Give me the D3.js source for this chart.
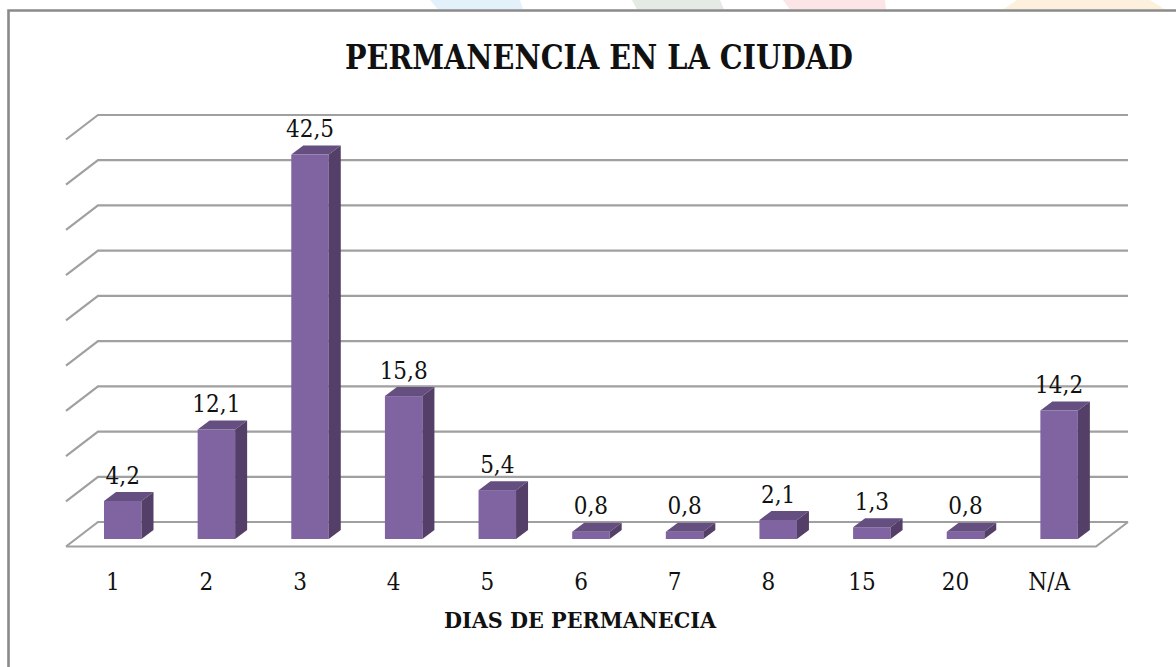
<!DOCTYPE html>
<html><head><meta charset="utf-8">
<script src="https://cdn.jsdelivr.net/npm/d3@7"></script>
<style>html,body{margin:0;padding:0;background:#fff}svg{display:block}
text{font-family:"DejaVu Serif Condensed","DejaVu Serif",serif;fill:#111}</style></head>
<body><svg id="c" width="1176" height="667"></svg>
<script>
const categories = ["1","2","3","4","5","6","7","8","15","20","N/A"];
const values = [4.2,12.1,42.5,15.8,5.4,0.8,0.8,2.1,1.3,0.8,14.2];
const labels = ["4,2","12,1","42,5","15,8","5,4","0,8","0,8","2,1","1,3","0,8","14,2"];
const gridTicks = [0,5,10,15,20,25,30,35,40,45];
const titleText = "PERMANENCIA EN LA CIUDAD";
const axisTitle = "DIAS DE PERMANECIA";
const stripes = [["430,0 520,0 523,9.5 438,9.5","#e2f1fa"],["632,0 720,0 724,9.5 637,9.5","#e4eae4"],["783,0 885,0 886,9.5 790,9.5","#fbe5e7"],["1017,0 1150,0 1165,9.5 1003,9.5","#fdf0dc"]];

const svg = d3.select("#c");
const floorDX = 32, floorDY = 24.5;
const barDX = 12, barDY = 9;
const x = d3.scaleBand().domain(categories).range([66,1096]).padding(0);
const y = d3.scaleLinear().domain([0,45]).range([546.5,139.5]);
const barBase = 539, yBar = v => barBase - (y(0)-y(v));

// decorative strips above the frame
svg.selectAll(".strip").data(stripes).join("polygon").attr("points",d=>d[0]).attr("fill",d=>d[1]);

// frame
svg.append("path").attr("d","M8.5,667V10.5H1176").attr("fill","none").attr("stroke","#8a8a8a").attr("stroke-width",2.6);

// gridlines
const gridColor="#a0a0a0";
const g = svg.append("g").attr("fill","none").attr("stroke",gridColor).attr("stroke-width",2.2);
g.selectAll(".gl").data(gridTicks).join("path")
  .attr("d",t=>{const yf=y(t), yb=yf-floorDY;
    return `M${x.range()[0]},${yf}L${x.range()[0]+floorDX},${yb}H${x.range()[1]+floorDX}`;});
g.append("path").attr("d",`M${x.range()[0]},${y(0)}H${x.range()[1]}L${x.range()[1]+floorDX},${y(0)-floorDY}`);

// bars
const barOffset = 38, barW = 37.5;
const bars = svg.selectAll(".bar").data(categories.map((c,i)=>({c,v:values[i],l:labels[i]}))).join("g").attr("class","bar");
bars.append("rect").attr("x",d=>x(d.c)+barOffset).attr("y",d=>yBar(d.v)).attr("width",barW)
  .attr("height",d=>barBase-yBar(d.v)).attr("fill","#8064a2");
bars.append("path").attr("fill","#654f80").attr("d",d=>{const l=x(d.c)+barOffset,t=yBar(d.v);
  return `M${l},${t}l${barDX},${-barDY}h${barW}l${-barDX},${barDY}z`;});
bars.append("path").attr("fill","#543f68").attr("d",d=>{const r=x(d.c)+barOffset+barW,t=yBar(d.v);
  return `M${r},${t}l${barDX},${-barDY}V${barBase-barDY}l${-barDX},${barDY}z`;});
bars.append("text").attr("x",d=>x(d.c)+barOffset+barW/2).attr("y",d=>yBar(d.v)-barDY-8.5)
  .attr("text-anchor","middle").attr("font-size",24).text(d=>d.l);

// category labels
const ax = d3.axisBottom(x).tickSize(0).tickPadding(0);
const axg = svg.append("g").attr("transform","translate(0,573)").call(ax);
axg.select(".domain").remove();
axg.selectAll("text").attr("y",17).attr("dy",null).attr("font-size",24).style("font-family",'"DejaVu Serif Condensed","DejaVu Serif",serif').attr("fill","#111");

svg.append("text").attr("x",599).attr("y",69).attr("text-anchor","middle").attr("font-size",33).attr("font-weight",700)
  .attr("textLength",508).attr("lengthAdjust","spacingAndGlyphs").text(titleText);
svg.append("text").attr("x",580).attr("y",628).attr("text-anchor","middle").attr("font-size",23).attr("font-weight",700)
  .attr("textLength",272).attr("lengthAdjust","spacingAndGlyphs").text(axisTitle);
</script></body></html>
